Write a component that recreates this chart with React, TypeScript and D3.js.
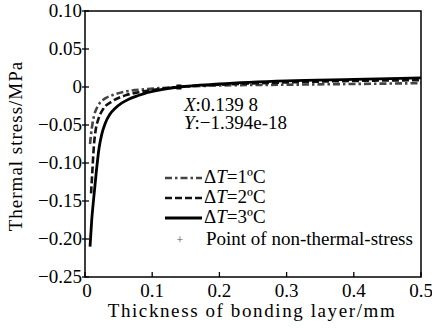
import React from "react";
import * as d3 from "d3";

const xTicks = [0, 0.1, 0.2, 0.3, 0.4, 0.5];
const yTicks = [0.1, 0.05, 0, -0.05, -0.1, -0.15, -0.2, -0.25];
const yTickLabels = ["0.10", "0.05", "0", "\u22120.05", "\u22120.10", "\u22120.15", "\u22120.20", "\u22120.25"];
const xTickLabels = ["0", "0.1", "0.2", "0.3", "0.4", "0.5"];

const x3 = [0.0075, 0.01, 0.013, 0.017, 0.021, 0.025, 0.03, 0.037, 0.045, 0.055, 0.065, 0.077, 0.09, 0.11, 0.1398, 0.2, 0.3, 0.4, 0.5];
const y3 = [-0.21, -0.175, -0.146, -0.11, -0.08, -0.062, -0.048, -0.036, -0.028, -0.021, -0.016, -0.012, -0.008, -0.004, 0, 0.004, 0.008, 0.01, 0.012];

const x2 = [0.009, 0.011, 0.013, 0.016, 0.02, 0.027, 0.04, 0.06, 0.08, 0.1, 0.1398, 0.2, 0.3, 0.4, 0.5];
const y2 = [-0.14, -0.11, -0.08, -0.056, -0.042, -0.029, -0.019, -0.011, -0.007, -0.004, 0, 0.003, 0.006, 0.008, 0.009];

const x1 = [0.0075, 0.009, 0.011, 0.014, 0.018, 0.022, 0.03, 0.04, 0.06, 0.09, 0.1398, 0.2, 0.3, 0.4, 0.5];
const y1 = [-0.075, -0.062, -0.049, -0.036, -0.027, -0.021, -0.015, -0.011, -0.006, -0.003, 0, 0.002, 0.003, 0.004, 0.005];

const zeroPoint = { x: 0.1398, y: 0 };
const legendLabels = ["1", "2", "3"];

const W = 432, H = 328;
const L = 85, R = 421, T = 11, B = 277;
const FF = "Liberation Serif";

function Txt(props: any) {
  const { children, style, ...rest } = props;
  return (
    <text fontFamily={FF} style={{ fontFamily: FF, ...(style || {}) }} {...rest}>
      {children}
    </text>
  );
}

export default function App() {
  const xs = d3.scaleLinear().domain([0, 0.5]).range([L, R]);
  const ys = d3.scaleLinear().domain([-0.25, 0.1]).range([B, T]);
  const line = d3
    .line<[number, number]>()
    .x((d) => xs(d[0]))
    .y((d) => ys(d[1]))
    .curve(d3.curveMonotoneX);
  const zip = (a: number[], b: number[]) => a.map((v, i) => [v, b[i]] as [number, number]);
  const series = [
    { d: zip(x1, y1), dash: "7,3,2.5,3", w: 2.6, color: "#444" },
    { d: zip(x2, y2), dash: "7,3", w: 2.6, color: "#111" },
    { d: zip(x3, y3), dash: "", w: 2.8, color: "#000" },
  ];
  const legY = [178, 198, 218];
  return (
    <div style={{ position: "absolute", left: 0, top: 0, fontFamily: FF }}>
      <svg width={W} height={H} style={{ display: "block", background: "#fff" }}>
        <defs>
          <clipPath id="pc">
            <rect x={L} y={T} width={R - L} height={B - T} />
          </clipPath>
        </defs>
        <g clipPath="url(#pc)">
          {series.map((s, i) => (
            <path key={i} d={line(s.d) || ""} fill="none" stroke={s.color} strokeWidth={s.w} strokeDasharray={s.dash} />
          ))}
        </g>
        <rect x={xs(zeroPoint.x) - 2.5} y={ys(zeroPoint.y) - 2.5} width={5} height={5} fill="#000" />
        <rect x={L} y={T} width={R - L} height={B - T} fill="none" stroke="#000" strokeWidth={1.5} />
        {yTicks.map((t, i) => (
          <g key={i}>
            <line x1={L - 3} x2={L + 4} y1={ys(t)} y2={ys(t)} stroke="#000" strokeWidth={1.3} />
            <Txt x={L - 3} y={ys(t) + 6} textAnchor="end" fontSize={19}>
              {yTickLabels[i]}
            </Txt>
          </g>
        ))}
        {xTicks.map((t, i) => (
          <g key={i}>
            <line x1={xs(t)} x2={xs(t)} y1={B} y2={B - 5} stroke="#000" strokeWidth={1.3} />
            <Txt x={xs(t) + (i === 0 ? 2 : 0)} y={297} textAnchor="middle" fontSize={19}>
              {xTickLabels[i]}
            </Txt>
          </g>
        ))}
        <Txt x={252} y={317} textAnchor="middle" fontSize={19} letterSpacing={1.6}>
          Thickness of bonding layer/mm
        </Txt>
        <Txt transform={`translate(22,${(T + B) / 2 + 2}) rotate(-90)`} textAnchor="middle" fontSize={19} letterSpacing={1}>
          Thermal stress/MPa
        </Txt>
        <Txt x={184} y={111} fontSize={19}>
          <tspan fontStyle="italic">X</tspan>:0.139 8
        </Txt>
        <Txt x={184} y={129} fontSize={19}>
          <tspan fontStyle="italic">Y</tspan>:{"\u2212"}1.394e-18
        </Txt>
        {series.map((s, i) => (
          <g key={i}>
            <line x1={165} x2={202} y1={legY[i]} y2={legY[i]} stroke={s.color} strokeWidth={s.w} strokeDasharray={s.dash} />
            <Txt x={204} y={legY[i] + 5} fontSize={19}>
              {"\u0394"}
              <tspan fontStyle="italic">T</tspan>={legendLabels[i]}
              {"\u00BAC"}
            </Txt>
          </g>
        ))}
        <Txt x={180} y={244} textAnchor="middle" fontSize={12} fill="#555">
          +
        </Txt>
        <Txt x={206} y={245} fontSize={19}>
          Point of non-thermal-stress
        </Txt>
      </svg>
    </div>
  );
}
